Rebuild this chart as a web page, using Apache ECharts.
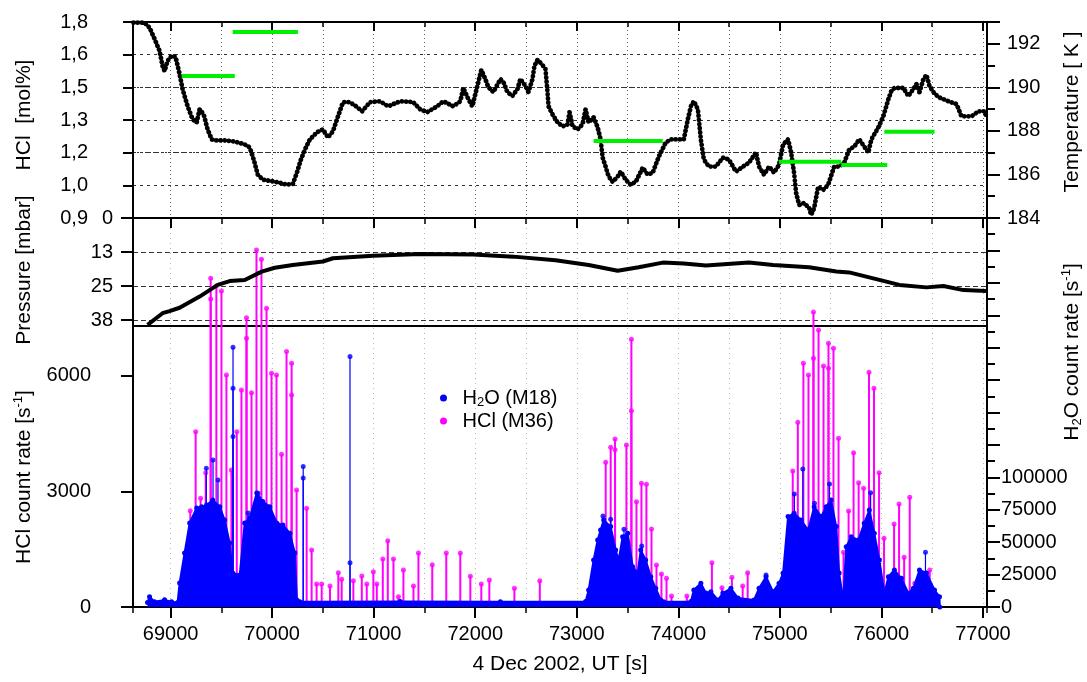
<!DOCTYPE html>
<html>
<head>
<meta charset="utf-8">
<title>HCl / H2O count rates, 4 Dec 2002</title>
<script src="https://cdn.jsdelivr.net/npm/echarts@6.0.0/dist/echarts.min.js"></script>
<style>
  html, body { margin: 0; padding: 0; background: #fff; }
  #chart { width: 1087px; height: 682px; }
</style>
</head>
<body>
<div id="chart"></div>
<script>
// time axis [s UT]
var xMin = 68630, xMax = 77040;

// top panel: temperature trace (black dots), right axis
var tempTime = [68635, 68743, 68793, 68842, 68891, 68921, 68941, 68970, 69010, 69049, 69089, 69118, 69168, 69217, 69257,
  69286, 69326, 69365, 69405, 69444, 69533, 69632, 69730, 69780, 69819, 69859, 69908, 69977, 70076, 70145, 70204,
  70244, 70283, 70323, 70372, 70441, 70500, 70550, 70599, 70649, 70698, 70767, 70826, 70886, 70964, 71063, 71142,
  71261, 71389, 71458, 71527, 71626, 71685, 71784, 71853, 71883, 71932, 71971, 72021, 72060, 72100, 72129, 72179,
  72248, 72278, 72317, 72366, 72416, 72445, 72495, 72524, 72564, 72583, 72613, 72653, 72692, 72712, 72722, 72761,
  72811, 72860, 72909, 72929, 72959, 73008, 73057, 73087, 73117, 73166, 73206, 73235, 73255, 73284, 73314, 73354,
  73403, 73433, 73482, 73531, 73581, 73650, 73699, 73748, 73808, 73877, 73926, 74054, 74094, 74124, 74153, 74193,
  74222, 74252, 74301, 74370, 74439, 74499, 74568, 74637, 74696, 74765, 74795, 74844, 74894, 74943, 74992, 75032,
  75081, 75111, 75140, 75160, 75190, 75239, 75289, 75308, 75338, 75377, 75427, 75476, 75535, 75585, 75634, 75683,
  75733, 75782, 75831, 75871, 75901, 75970, 76019, 76069, 76098, 76128, 76217, 76266, 76315, 76345, 76375, 76414,
  76444, 76473, 76513, 76562, 76661, 76740, 76789, 76888, 76957, 77016, 77036];
var tempK = [192.97, 192.97, 192.74, 192.23, 191.68, 190.98, 190.75, 191.21, 191.45, 191.40, 190.61, 189.92, 189.13, 188.53, 188.39,
  188.99, 188.76, 188.07, 187.61, 187.56, 187.56, 187.51, 187.38, 187.24, 186.68, 185.99, 185.76, 185.71, 185.62, 185.53, 185.57,
  186.08, 186.68, 187.14, 187.61, 187.93, 188.07, 187.70, 187.98, 188.67, 189.32, 189.32, 189.13, 188.90, 189.32, 189.36, 189.13,
  189.36, 189.32, 188.99, 188.86, 189.13, 189.36, 189.13, 189.36, 189.97, 189.46, 189.13, 190.06, 190.80, 190.38, 190.01, 189.78,
  190.38, 190.24, 189.78, 189.60, 189.92, 190.38, 190.06, 189.78, 190.38, 190.98, 191.26, 191.08, 190.84, 189.78, 189.13, 188.76,
  188.39, 188.21, 188.30, 188.86, 188.21, 188.07, 188.30, 188.99, 188.39, 188.62, 188.16, 187.61, 186.77, 186.36, 185.90, 185.66,
  185.90, 186.13, 185.76, 185.53, 185.66, 186.31, 185.99, 186.08, 186.82, 187.47, 187.61, 187.61, 188.53, 189.13, 189.36, 188.99,
  187.61, 186.68, 186.36, 186.36, 186.77, 186.68, 186.13, 186.36, 186.54, 187.01, 186.36, 185.99, 186.36, 186.08, 186.45, 187.38,
  187.61, 187.01, 186.08, 185.16, 184.60, 184.69, 184.46, 184.14, 184.46, 185.43, 185.29, 185.53, 186.36, 186.36, 186.54, 187.14,
  187.28, 187.61, 187.28, 187.01, 187.61, 188.16, 188.67, 189.46, 189.83, 189.97, 189.97, 189.60, 189.92, 190.15, 189.78, 190.38,
  190.57, 190.06, 189.78, 189.55, 189.36, 189.23, 188.67, 188.67, 188.90, 188.90, 188.62];

// top panel: HCl mixing ratio averages (green bars), left axis
var hclAvgStart = [69109, 69612, 73166, 74992, 75604, 76029];
var hclAvgEnd   = [69632, 70254, 73847, 75604, 76058, 76523];
var hclAvgMol   = [1.552, 1.754, 1.254, 1.158, 1.143, 1.296];

// middle panel: pressure
var presTime = [68773, 68921, 68990, 69089, 69286, 69464, 69582, 69730, 69898, 70026, 70204, 70500, 70599, 70994, 71458,
  71981, 72376, 72791, 73117, 73403, 73610, 73847, 74054, 74272, 74696, 74933, 75288, 75555, 75683, 75920, 76177, 76443,
  76610, 76808, 77035];
var presMbar = [39.3, 35.0, 34.2, 33.0, 28.9, 24.6, 23.2, 22.8, 19.7, 18.3, 17.3, 16.0, 14.8, 13.9, 13.2,
  13.4, 14.2, 15.5, 17.3, 19.4, 18.1, 16.4, 16.7, 17.5, 16.4, 17.3, 18.1, 19.7, 20.0, 22.2, 24.6, 25.5,
  25.0, 26.5, 26.8];

// bottom panel: HCl count rate spikes (M36), left axis
var hclTime = [69194, 69247, 69296, 69346, 69395, 69395, 69451, 69501, 69550, 69599, 69652, 69698, 69748, 69748, 69797,
  69846, 69895, 69945, 69994, 70043, 70093, 70142, 70192, 70192, 70241, 70340, 70389, 70438, 70488, 70570, 70652,
  70685, 70800, 70883, 70932, 70997, 71031, 71090, 71139, 71195, 71244, 71293, 71392, 71441, 71577, 71715, 71853,
  71952, 72060, 72139, 72386, 72636, 73285, 73334, 73377, 73377, 73489, 73538, 73538, 73588, 73637, 73686, 73736,
  73785, 73834, 73884, 73933, 74084, 74331, 74430, 74528, 74634, 74683, 75127, 75177, 75232, 75282, 75331, 75331,
  75381, 75430, 75479, 75479, 75528, 75578, 75627, 75677, 75726, 75776, 75825, 75878, 75927, 75977, 76026, 76125,
  76174, 76224, 76279, 76328, 76476];
var hclRate = [2500, 4553, 2823, 3488, 8536, 7998, 8336, 8206, 6025, 3558, 4553, 5636, 7513, 6978, 5566,
  9271, 9030, 7757, 6069, 6025, 3965, 6631, 6328, 5505, 3038, 2563, 1480, 597, 597, 545, 891,
  719, 683, 805, 597, 917, 597, 1247, 1722, 1247, 268, 961, 545, 1400, 1100, 1400, 1400,
  800, 600, 700, 485, 684, 3757, 4147, 4363, 4086, 4207, 6952, 5098, 2735, 3212, 3186, 2026,
  1091, 857, 745, 286, 286, 1150, 501, 771, 545, 891, 3532, 4796, 6328, 6025, 7661, 6458,
  7194, 6259, 6848, 6198, 6718, 4381, 1420, 2493, 4008, 3229, 3083, 6095, 5680, 3488, 1784, 2156,
  2675, 1291, 2849, 615, 961];

// bottom panel: H2O count rate (M18), right axis - dense envelope
var h2oTime = [68773, 68793, 68842, 68941, 69010, 69069, 69089, 69138, 69188, 69257, 69306, 69355, 69415, 69484, 69533,
  69582, 69612, 69681, 69730, 69780, 69849, 69908, 69977, 70046, 70106, 70175, 70224, 70244, 70273, 71261, 72248,
  73087, 73117, 73166, 73206, 73235, 73265, 73334, 73383, 73413, 73452, 73502, 73551, 73600, 73630, 73679, 73729,
  73778, 73827, 73857, 74124, 74153, 74222, 74272, 74321, 74390, 74439, 74518, 74588, 74746, 74795, 74864, 74933,
  74992, 75032, 75081, 75140, 75209, 75279, 75338, 75407, 75456, 75505, 75555, 75584, 75624, 75654, 75703, 75772,
  75831, 75881, 75930, 75980, 76029, 76069, 76128, 76197, 76266, 76315, 76375, 76444, 76523, 76572, 76575];
var h2oRate = [3500, 8000, 4000, 5500, 4000, 3500, 18500, 41700, 64800, 76400, 77400, 78700, 82600, 77400, 67100,
  49400, 26200, 24700, 64800, 68700, 88000, 81300, 77400, 64800, 63300, 56900, 41700, 5400, 4100, 4300, 4000,
  4200, 13100, 36300, 51700, 59400, 67100, 62000, 44000, 36300, 54200, 56900, 31100, 26200, 44000, 36300, 23400,
  14400, 5400, 4000, 4200, 13100, 18300, 10800, 11800, 5400, 10800, 14400, 6900, 5400, 14400, 23400, 11800,
  18300, 26200, 69700, 72300, 67100, 59400, 77400, 69700, 77400, 82600, 62000, 26200, 5400, 46500, 54200, 51700,
  64600, 74800, 56900, 36300, 10600, 23400, 28500, 22100, 10600, 14400, 28500, 26200, 13100, 8000, 0];

// bottom panel: single H2O points standing above the envelope
var h2oSpikeTime = [69352, 69418, 69467, 69615, 69615, 69615, 69763, 69862, 70306, 70306, 70767, 70767,
  73258, 73334, 73465, 73640, 74864, 75143, 75226, 75341, 75489, 75894, 76434];
var h2oSpikeRate = [107000, 113400, 98000, 200400, 168750, 131400, 72500, 87700, 108260, 99400, 193100, 34200,
  70200, 67700, 60000, 47100, 24700, 87200, 106500, 80000, 94900, 88200, 42200];

// tick labels
var hclCountTicks = [0, 3000, 6000];
var h2oLabelMax = 100000;

var FONT = 'Liberation Sans';
var BLUE = '#0000ff', MAGENTA = '#ff00ff', GREEN = '#00ee00';

function pairs(xs, ys) {
  return xs.map(function (x, i) { return [x, ys[i]]; });
}

function stem(width) {
  return function (params, api) {
    var top = api.coord([api.value(0), api.value(1)]);
    var base = api.coord([api.value(0), 0]);
    return {
      type: 'line',
      shape: { x1: base[0], y1: base[1], x2: top[0], y2: top[1] },
      style: { stroke: api.visual('color'), lineWidth: width }
    };
  };
}

function frameLine() {
  return { show: true, onZero: false, lineStyle: { color: '#000', width: 2 } };
}

// x axes: one for 1000 s ticks, one for 500 s ticks, per panel
function timeAxis(grid, position, splitNumber, extra) {
  var a = {
    gridIndex: grid, type: 'value', position: position, min: xMin, max: xMax, splitNumber: splitNumber,
    axisLine: { show: false, onZero: false },
    axisTick: { show: false },
    axisLabel: { show: false },
    splitLine: { show: false }
  };
  for (var k in extra) a[k] = extra[k];
  return a;
}

var chart = echarts.init(document.getElementById('chart'), null, { renderer: 'canvas' });

var series = [
  {
    name: 'Temperature', type: 'line', xAxisIndex: 0, yAxisIndex: 1,
    data: pairs(tempTime, tempK), symbol: 'none', silent: true, z: 4,
    lineStyle: { color: '#000', width: 4.8, type: [0.01, 4.2], cap: 'round' }
  },
  {
    name: 'Pressure', type: 'line', xAxisIndex: 2, yAxisIndex: 3,
    data: pairs(presTime, presMbar), symbol: 'none', silent: true, z: 5,
    lineStyle: { color: '#000', width: 4 }
  },
  {
    name: 'HCl (M36)', type: 'custom', xAxisIndex: 5, yAxisIndex: 4,
    renderItem: stem(2), data: pairs(hclTime, hclRate), encode: { x: 0, y: 1 },
    itemStyle: { color: MAGENTA }, silent: true, z: 2
  },
  {
    name: 'HCl (M36)', type: 'scatter', xAxisIndex: 5, yAxisIndex: 4,
    data: pairs(hclTime, hclRate), symbolSize: 5, itemStyle: { color: MAGENTA }, silent: true, z: 2
  },
  {
    name: 'H2O (M18)', type: 'line', xAxisIndex: 5, yAxisIndex: 5,
    data: pairs(h2oTime, h2oRate), symbol: 'circle', symbolSize: 5, showSymbol: true, silent: true, z: 3,
    lineStyle: { color: BLUE, width: 2 }, areaStyle: { color: BLUE, opacity: 1 }, itemStyle: { color: BLUE }
  },
  {
    name: 'H2O (M18)', type: 'custom', xAxisIndex: 5, yAxisIndex: 5,
    renderItem: stem(1.2), data: pairs(h2oSpikeTime, h2oSpikeRate), encode: { x: 0, y: 1 },
    itemStyle: { color: BLUE }, silent: true, z: 3
  },
  {
    name: 'H2O (M18)', type: 'scatter', xAxisIndex: 5, yAxisIndex: 5,
    data: pairs(h2oSpikeTime, h2oSpikeRate), symbolSize: 5, itemStyle: { color: BLUE }, silent: true, z: 3
  }
];

hclAvgStart.forEach(function (s, i) {
  series.push({
    name: 'HCl mol%', type: 'line', xAxisIndex: 0, yAxisIndex: 0, symbol: 'none', silent: true, z: 4,
    data: [[s, hclAvgMol[i]], [hclAvgEnd[i], hclAvgMol[i]]],
    lineStyle: { color: GREEN, width: 4 }
  });
});

var option = {
  backgroundColor: '#fff',
  animation: false,
  textStyle: { fontFamily: FONT, color: '#000' },
  grid: [
    { left: 133, right: 100, top: 22, height: 196 },
    { left: 133, right: 100, top: 218, height: 108 },
    { left: 133, right: 100, top: 218, height: 389 }
  ],
  legend: {
    orient: 'vertical', left: 435, top: 383, itemGap: 2, itemWidth: 28, itemHeight: 7,
    selectedMode: false,
    data: [
      { name: 'H2O (M18)', icon: 'circle', itemStyle: { color: BLUE } },
      { name: 'HCl (M36)', icon: 'circle', itemStyle: { color: MAGENTA } }
    ],
    formatter: function (name) {
      return name === 'H2O (M18)' ? '{n|H}{sub|2}{n|O (M18)}' : '{n|' + name + '}';
    },
    textStyle: {
      fontFamily: FONT, fontSize: 20, color: '#000',
      rich: {
        n: { fontFamily: FONT, fontSize: 20, lineHeight: 22 },
        sub: { fontFamily: FONT, fontSize: 13, lineHeight: 13, verticalAlign: 'bottom' }
      }
    }
  },
  xAxis: [
    // 0: top panel, 1000 s ticks on the top edge
    timeAxis(0, 'top', 8, {
      axisLine: frameLine(),
      axisTick: { show: true, inside: true, length: 9, lineStyle: { color: '#000', width: 2 } }
    }),
    // 1: top panel, 500 s ticks and dotted verticals
    timeAxis(0, 'top', 17, {
      axisTick: { show: true, inside: true, length: 5, lineStyle: { color: '#000', width: 1.5 } },
      splitLine: { show: true, lineStyle: { color: '#666', width: 1, type: [1, 3] } }
    }),
    // 2: pressure panel top edge
    timeAxis(1, 'top', 8, {
      axisLine: frameLine(),
      axisTick: { show: true, inside: true, length: 10, lineStyle: { color: '#000', width: 2 } }
    }),
    // 3: pressure panel 500 s ticks
    timeAxis(1, 'top', 17, {
      axisTick: { show: true, inside: true, length: 6, lineStyle: { color: '#000', width: 1.5 } }
    }),
    // 4: separator between pressure and count-rate panels
    timeAxis(1, 'bottom', 8, { axisLine: frameLine() }),
    // 5: bottom axis with labels
    timeAxis(2, 'bottom', 8, {
      axisLine: frameLine(),
      axisTick: { show: true, length: 11, lineStyle: { color: '#000', width: 2 } },
      axisLabel: {
        show: true, fontSize: 20, color: '#000', margin: 17, fontFamily: FONT,
        showMinLabel: false, showMaxLabel: false,
        formatter: function (v) { return v % 1000 === 0 ? String(v) : ''; }
      }
    }),
    // 6: bottom 500 s ticks and light dotted verticals
    timeAxis(2, 'bottom', 17, {
      axisTick: { show: true, length: 6, lineStyle: { color: '#000', width: 1.5 } },
      splitLine: { show: true, lineStyle: { color: '#b4b4b4', width: 1, type: [1, 4] } }
    })
  ],
  yAxis: [
    // 0: HCl mixing ratio
    {
      gridIndex: 0, type: 'value', position: 'left', min: 0.9, max: 1.8, interval: 0.15,
      axisLine: frameLine(),
      axisTick: { show: true, length: 10, lineStyle: { color: '#000', width: 2 } },
      axisLabel: {
        fontSize: 20, color: '#000', margin: 45, fontFamily: FONT,
        formatter: function (v) { return (Math.floor(v * 10 + 1e-6) / 10).toFixed(1).replace('.', ','); }
      },
      splitLine: { show: true, lineStyle: { color: '#333', width: 1, type: [3, 4] } }
    },
    // 1: temperature
    {
      gridIndex: 0, type: 'value', position: 'right', min: 184, max: 193, interval: 2,
      axisLine: frameLine(),
      axisTick: { show: true, length: 13, lineStyle: { color: '#000', width: 2 } },
      minorTick: { show: true, splitNumber: 2, length: 8, lineStyle: { color: '#000', width: 2 } },
      axisLabel: { fontSize: 20, color: '#000', margin: 20, fontFamily: FONT, showMaxLabel: false },
      splitLine: { show: false }
    },
    // 2: denser dotted lines at 1,2 and 1,5
    {
      gridIndex: 0, type: 'value', position: 'left', min: 0.9, max: 1.8, interval: 0.3,
      axisLine: { show: false }, axisTick: { show: false }, axisLabel: { show: false },
      splitLine: { show: true, lineStyle: { color: '#333', width: 1, type: [2, 2] } }
    },
    // 3: pressure (increasing downward)
    {
      gridIndex: 1, type: 'value', position: 'left', inverse: true, min: 0, max: 39.7, interval: 12.5,
      axisLine: frameLine(),
      axisTick: { show: true, length: 12, lineStyle: { color: '#000', width: 2 } },
      axisLabel: {
        fontSize: 20, color: '#000', margin: 20, fontFamily: FONT, showMaxLabel: false,
        formatter: function (v) { return String(Math.round(v)); }
      },
      splitLine: { show: true, lineStyle: { color: '#333', width: 1, type: [5, 3] } }
    },
    // 4: HCl count rate
    {
      gridIndex: 2, type: 'value', position: 'left', min: 0, max: 10100,
      axisLine: frameLine(),
      axisTick: { show: true, length: 12, customValues: hclCountTicks, lineStyle: { color: '#000', width: 2 } },
      axisLabel: {
        fontSize: 20, color: '#000', margin: 42, fontFamily: FONT, customValues: hclCountTicks,
        formatter: function (v) { return String(v); }
      },
      splitLine: { show: false }
    },
    // 5: H2O count rate
    {
      gridIndex: 2, type: 'value', position: 'right', min: 0, max: 300000, interval: 25000,
      axisLine: frameLine(),
      axisTick: { show: true, length: 13, lineStyle: { color: '#000', width: 2 } },
      minorTick: { show: true, splitNumber: 2, length: 8, lineStyle: { color: '#000', width: 2 } },
      axisLabel: {
        fontSize: 20, color: '#000', margin: 14, fontFamily: FONT,
        formatter: function (v) { return v <= h2oLabelMax ? String(v) : ''; }
      },
      splitLine: { show: false }
    }
  ],
  graphic: [
    { type: 'text', x: 24, y: 115, rotation: Math.PI / 2,
      style: { text: 'HCl  [mol%]', fontFamily: FONT, fontSize: 21, fill: '#000', align: 'center', verticalAlign: 'middle' } },
    { type: 'text', x: 24, y: 270, rotation: Math.PI / 2,
      style: { text: 'Pressure [mbar]', fontFamily: FONT, fontSize: 21, fill: '#000', align: 'center', verticalAlign: 'middle' } },
    { type: 'text', x: 24, y: 477, rotation: Math.PI / 2,
      style: {
        text: '{n|HCl count rate [s}{sup|-1}{n|]}', align: 'center', verticalAlign: 'middle',
        rich: {
          n: { fontFamily: FONT, fontSize: 21, fill: '#000', lineHeight: 24 },
          sup: { fontFamily: FONT, fontSize: 13, fill: '#000', lineHeight: 13, verticalAlign: 'top' }
        }
      } },
    { type: 'text', x: 1072, y: 112, rotation: Math.PI / 2,
      style: { text: 'Temperature [ K ]', fontFamily: FONT, fontSize: 21, fill: '#000', align: 'center', verticalAlign: 'middle' } },
    { type: 'text', x: 1072, y: 352, rotation: Math.PI / 2,
      style: {
        text: '{n|H}{sub|2}{n|O count rate [s}{sup|-1}{n|]}', align: 'center', verticalAlign: 'middle',
        rich: {
          n: { fontFamily: FONT, fontSize: 21, fill: '#000', lineHeight: 24 },
          sub: { fontFamily: FONT, fontSize: 13, fill: '#000', lineHeight: 13, verticalAlign: 'bottom' },
          sup: { fontFamily: FONT, fontSize: 13, fill: '#000', lineHeight: 13, verticalAlign: 'top' }
        }
      } },
    { type: 'text', x: 560, y: 664,
      style: { text: '4 Dec 2002, UT [s]', fontFamily: FONT, fontSize: 21, fill: '#000', align: 'center', verticalAlign: 'middle' } }
  ],
  series: series
};

chart.setOption(option);
</script>
</body>
</html>
